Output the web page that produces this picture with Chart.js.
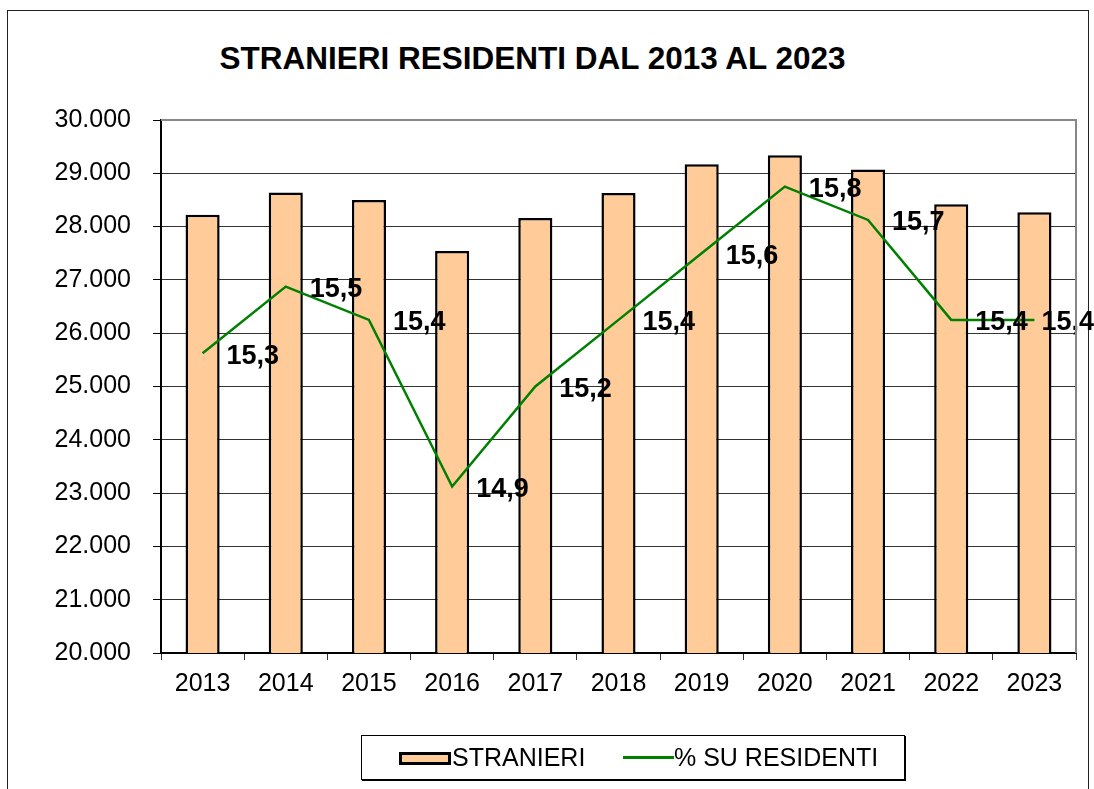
<!DOCTYPE html>
<html>
<head>
<meta charset="utf-8">
<script src="https://cdn.jsdelivr.net/npm/chart.js@4/dist/chart.umd.min.js"></script>
<style>
  html, body { margin: 0; padding: 0; background: #fff; }
  body { width: 1094px; height: 789px; position: relative; overflow: hidden; font-family: Arial, "Liberation Sans", sans-serif; }
  #frame { position: absolute; left: 7px; top: 10px; width: 1082px; height: 800px; border: 1.5px solid #222; box-sizing: border-box; }
  #title { position: absolute; left: 0; width: 1065px; top: 40px; text-align: center; font-weight: bold; font-size: 31.5px; color: #000; }
  #wrap { position: absolute; left: 0; top: 0; width: 1094px; height: 789px; }
  #legend { position: absolute; left: 361px; top: 735px; width: 544px; height: 45px; border: 1px solid #000; box-sizing: border-box; box-shadow: 1px 1px 0 #000; background: #fff; font-size: 25px; }
  .item { position: absolute; top: 8px; line-height: 26px; }
  .box { position: absolute; left: 37px; top: 16px; width: 52px; height: 13px; background: #FFCC99; border: 3px solid #000; box-sizing: border-box; }
  .ln { position: absolute; left: 261px; top: 20px; width: 51px; height: 3px; background: #008000; }
</style>
</head>
<body>
<div id="frame"></div>
<div id="title">STRANIERI RESIDENTI DAL 2013 AL 2023</div>
<div id="wrap"><canvas id="chart"></canvas></div>
<div id="legend">
  <span class="box"></span><span class="item" style="left:90px">STRANIERI</span>
  <span class="ln"></span><span class="item" style="left:312px">% SU RESIDENTI</span>
</div>
<script>
// dati
const anni = ['2013', '2014', '2015', '2016', '2017', '2018', '2019', '2020', '2021', '2022', '2023'];
const stranieri = [28220, 28640, 28500, 27540, 28160, 28630, 29170, 29340, 29070, 28420, 28270];
const percResidenti = [15.3, 15.5, 15.4, 14.9, 15.2, 15.4, 15.6, 15.8, 15.7, 15.4, 15.4];
const yTicks = [20000, 21000, 22000, 23000, 24000, 25000, 26000, 27000, 28000, 29000, 30000];

const fmtMigliaia = v => v.toLocaleString('it-IT').replace(/\s/g, '.');

// bordo grigio sopra e a destra dell'area del grafico
const plotBorder = {
  id: 'plotBorder',
  afterDraw(chart) {
    const a = chart.chartArea, ctx = chart.ctx;
    ctx.save();
    ctx.strokeStyle = '#888';
    ctx.lineWidth = 2;
    ctx.beginPath();
    ctx.moveTo(a.left, a.top);
    ctx.lineTo(a.right, a.top);
    ctx.lineTo(a.right, a.bottom);
    ctx.stroke();
    ctx.restore();
  }
};

// etichette delle percentuali a destra dei punti (l'ultima resta dentro il riquadro)
const etichette = {
  id: 'etichette',
  afterDatasetsDraw(chart) {
    const meta = chart.getDatasetMeta(1);
    const ctx = chart.ctx;
    ctx.save();
    ctx.font = 'bold 27px Arial, "Liberation Sans", sans-serif';
    ctx.fillStyle = '#000';
    ctx.textAlign = 'left';
    ctx.textBaseline = 'middle';
    meta.data.forEach((p, i) => {
      const txt = percResidenti[i].toFixed(1).replace('.', ',');
      const w = ctx.measureText(txt).width;
      const x = Math.min(p.x + 24, chart.width - w);
      ctx.fillText(txt, x, p.y + 3);
    });
    ctx.restore();
  }
};

const ctx = document.getElementById('chart').getContext('2d');
new Chart(ctx, {
  data: {
    labels: anni,
    datasets: [{
      type: 'bar',
      label: 'STRANIERI',
      data: stranieri,
      backgroundColor: '#FFCC99',
      borderColor: '#000',
      borderWidth: 2.5,
      borderSkipped: false,
      barPercentage: 0.41,
      categoryPercentage: 1,
      yAxisID: 'y',
      order: 2
    }, {
      type: 'line',
      label: '% SU RESIDENTI',
      data: percResidenti,
      borderColor: '#008000',
      borderWidth: 2.5,
      pointRadius: 0,
      tension: 0,
      fill: false,
      yAxisID: 'y2',
      order: 1
    }]
  },
  options: {
    responsive: true,
    maintainAspectRatio: false,
    animation: false,
    layout: { padding: { left: 0, top: 120, right: 18, bottom: 86 } },
    plugins: {
      legend: { display: false },
      title: { display: false },
      tooltip: { enabled: false }
    },
    scales: {
      x: {
        offset: true,
        grid: { display: true, drawOnChartArea: false, offset: true, tickLength: 7, color: '#000', tickColor: '#333' },
        border: { color: '#000', width: 2 },
        ticks: { color: '#000', font: { size: 25, family: 'Arial, "Liberation Sans", sans-serif' }, padding: 9, maxRotation: 0 },
        afterFit(scale) { scale.height = 50; }
      },
      y: {
        min: 20000,
        max: 30000,
        afterBuildTicks(scale) { scale.ticks = yTicks.map(v => ({ value: v })); },
        grid: { color: '#333', lineWidth: 1, tickLength: 8, tickColor: '#000' },
        border: { color: '#000', width: 2 },
        ticks: {
          color: '#000',
          padding: 22,
          font: { size: 25, family: 'Arial, "Liberation Sans", sans-serif' },
          callback: v => fmtMigliaia(v)
        },
        afterFit(scale) { scale.width = 161; }
      },
      y2: {
        display: false,
        min: 14.4,
        max: 16.0
      }
    }
  },
  plugins: [plotBorder, etichette]
});
</script>
</body>
</html>
